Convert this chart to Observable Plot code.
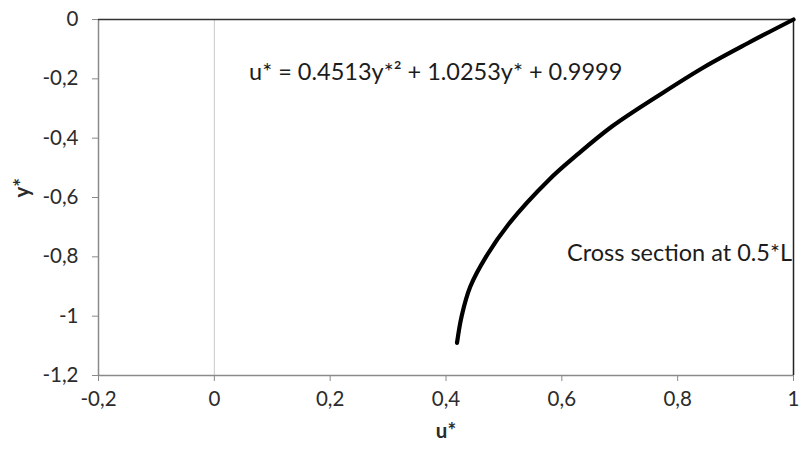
<!DOCTYPE html>
<html>
<head>
<meta charset="utf-8">
<script src="https://cdn.jsdelivr.net/npm/d3@7"></script>
<script src="https://cdn.jsdelivr.net/npm/@observablehq/plot@0.6"></script>
<style>
  html, body { margin: 0; padding: 0; background: #fff; }
  svg { display: block; }
</style>
</head>
<body>
<div id="chart"></div>
<script>
// Data
const uStar = [1.0, 0.921, 0.846, 0.772, 0.687, 0.624, 0.578, 0.508, 0.469, 0.442, 0.427, 0.419];
const yStar = [0.0, -0.08, -0.16, -0.25, -0.36, -0.46, -0.54, -0.69, -0.80, -0.90, -1.0, -1.09];
const xTicks = [-0.2, 0, 0.2, 0.4, 0.6, 0.8, 1];
const yTicks = [0, -0.2, -0.4, -0.6, -0.8, -1, -1.2];
const notes = ["u* = 0.4513y*² + 1.0253y* + 0.9999", "Cross section at 0.5*L"];
const noteU = [0.06, 0.609];
const noteY = [-0.179, -0.789];

const curve = uStar.map((u, i) => ({u, y: yStar[i]}));
const noteData = notes.map((t, i) => ({t, u: noteU[i], y: noteY[i]}));
const fmt = d => String(d).replace(".", ",");

const chart = Plot.plot({
  width: 799,
  height: 455,
  marginLeft: 98,
  marginRight: 6,
  marginTop: 19,
  marginBottom: 80,
  style: {fontFamily: "Lato, sans-serif", background: "#fff"},
  x: {domain: [-0.2, 1]},
  y: {domain: [-1.2, 0]},
  marks: [
    Plot.ruleX([0], {stroke: "#c8c8c8", strokeWidth: 1}),
    Plot.ruleX([-0.2], {stroke: "#8a8a8a", strokeWidth: 1.5}),
    Plot.ruleY([-1.2], {stroke: "#8a8a8a", strokeWidth: 1.5}),
    Plot.ruleY([0], {stroke: "#333", strokeWidth: 1.5}),
    Plot.ruleX([1], {stroke: "#222", strokeWidth: 1.5}),
    Plot.axisX({ticks: xTicks, tickFormat: fmt, tickSize: 6, tickPadding: 10, stroke: "#8a8a8a",
      fontSize: 20.5, color: "#2b2b2b", label: null}),
    Plot.axisY({ticks: yTicks, tickFormat: fmt, tickSize: 6, tickPadding: 14, stroke: "#8a8a8a",
      fontSize: 20.5, color: "#2b2b2b", label: null}),
    Plot.text(["u*"], {frameAnchor: "bottom", dy: 62, fontSize: 20.5, fontWeight: "bold", fill: "#2b2b2b"}),
    Plot.text(["y*"], {frameAnchor: "left", dx: -76, rotate: -90, fontSize: 20.5, fontWeight: "bold", fill: "#2b2b2b"}),
    Plot.line(curve, {x: "u", y: "y", curve: "catmull-rom", stroke: "#000", strokeWidth: 4.2, strokeLinecap: "round"}),
    Plot.text(noteData, {x: "u", y: "y", text: "t", textAnchor: "start", fontSize: 23.5, fill: "#1c1c1c", clip: true})
  ]
});
document.getElementById("chart").appendChild(chart);
</script>
</body>
</html>
